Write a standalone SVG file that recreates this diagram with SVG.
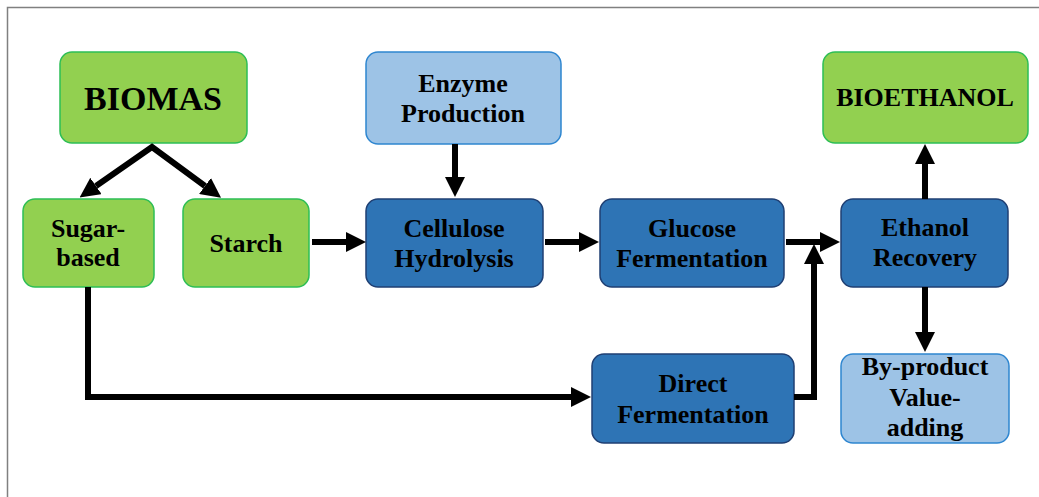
<svg xmlns="http://www.w3.org/2000/svg" width="1039" height="497" viewBox="0 0 1039 497">
<style>
.frame{fill:none;stroke:#808080;stroke-width:1.5}
.green{fill:#92D050;stroke:#2DBE55;stroke-width:1.5}
.dark{fill:#2E74B5;stroke:#1F3F73;stroke-width:1.5}
.light{fill:#9DC3E6;stroke:#2E86D0;stroke-width:1.5}
text{font-family:"Liberation Serif","Times New Roman",serif;font-weight:bold;font-size:26px;fill:#000;text-anchor:middle}
.big{font-size:34px}
.conn{fill:none;stroke:#000;stroke-width:6;stroke-linejoin:miter}
</style>
<defs>
<marker id="ah" markerUnits="userSpaceOnUse" markerWidth="20" markerHeight="20" viewBox="0 0 20 20" refX="0" refY="10" orient="auto-start-reverse">
<path d="M0,0 L20,10 L0,20 z" fill="#000"/>
</marker>
</defs>
<rect class="frame" x="7.5" y="7.5" width="1100" height="560"/>
<g id="biomas"><rect class="green" x="60" y="52" width="187" height="91" rx="12"/><text class="big" x="153" y="110">BIOMAS</text></g>
<g id="sugar"><rect class="green" x="23" y="199" width="131" height="88" rx="12"/><text x="88" y="237">Sugar-</text><text x="88" y="266">based</text></g>
<g id="starch"><rect class="green" x="183" y="199" width="126" height="88" rx="12"/><text x="246" y="252">Starch</text></g>
<g id="enzyme"><rect class="light" x="366" y="52" width="195" height="92" rx="12"/><text x="463" y="92">Enzyme</text><text x="463" y="122">Production</text></g>
<g id="cellulose"><rect class="dark" x="366" y="199" width="177" height="88" rx="12"/><text x="454" y="237">Cellulose</text><text x="454" y="267">Hydrolysis</text></g>
<g id="glucose"><rect class="dark" x="600" y="199" width="184" height="88" rx="12"/><text x="692" y="237">Glucose</text><text x="692" y="267">Fermentation</text></g>
<g id="ethanol"><rect class="dark" x="841" y="199" width="167" height="88" rx="12"/><text x="925" y="236">Ethanol</text><text x="925" y="266">Recovery</text></g>
<g id="bioethanol"><rect class="green" x="823" y="52" width="205" height="91" rx="12"/><text x="925" y="106">BIOETHANOL</text></g>
<g id="direct"><rect class="dark" x="592" y="354" width="202" height="89" rx="12"/><text x="693" y="392">Direct</text><text x="693" y="423">Fermentation</text></g>
<g id="byproduct"><rect class="light" x="841" y="354" width="168" height="89" rx="12"/><text x="925" y="375">By-product</text><text x="925" y="406">Value-</text><text x="925" y="436">adding</text></g>
<g id="connectors">
<path class="conn" d="M96,186 L152,147 L205,186" marker-start="url(#ah)" marker-end="url(#ah)"/>
<path class="conn" d="M312,242 L346,242" marker-end="url(#ah)"/>
<path class="conn" d="M455,144 L455,177" marker-end="url(#ah)"/>
<path class="conn" d="M545,242 L579,242" marker-end="url(#ah)"/>
<path class="conn" d="M786,242 L820,242" marker-end="url(#ah)"/>
<path class="conn" d="M794,397 L814,397 L814,264" marker-end="url(#ah)"/>
<path class="conn" d="M925,199 L925,164" marker-end="url(#ah)"/>
<path class="conn" d="M925,287 L925,332" marker-end="url(#ah)"/>
<path class="conn" d="M88,287 L88,397 L571,397" marker-end="url(#ah)"/>
</g>
</svg>
